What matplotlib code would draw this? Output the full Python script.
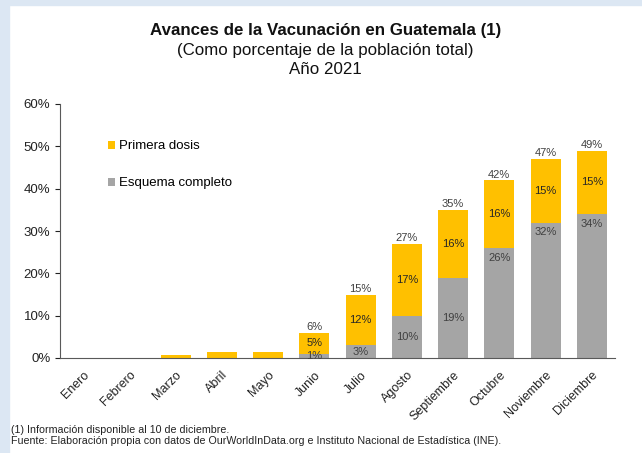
import matplotlib.pyplot as plt
from matplotlib.patches import Rectangle
from matplotlib.ticker import FuncFormatter

plt.rcParams["font.family"] = ["Liberation Sans", "DejaVu Sans"]

OUT_PNG = "out.png"

MONTHS = ["Enero", "Febrero", "Marzo", "Abril", "Mayo", "Junio", "Julio",
          "Agosto", "Septiembre", "Octubre", "Noviembre", "Diciembre"]
# percent of total population
ESQUEMA = [0, 0, 0, 0, 0, 1, 3, 10, 19, 26, 32, 34]
PRIMERA = [0, 0, 0.8, 1.3, 1.3, 5, 12, 17, 16, 16, 15, 15]
LABELED = [False, False, False, False, False, True, True, True, True, True, True, True]

YELLOW = "#FFC000"
GRAY = "#A5A5A5"
TEXT = "#404040"


def main():
    fig = plt.figure(figsize=(6.42, 4.53), dpi=100)
    # light blue frame strips
    fig.patches.append(Rectangle((0, 0), 9 / 642, 1, transform=fig.transFigure,
                                 color="#DCE7F3", zorder=0))
    fig.patches.append(Rectangle((0, 1 - 5 / 453), 1, 5 / 453, transform=fig.transFigure,
                                 color="#DCE7F3", zorder=0))

    ax = fig.add_axes([60 / 642, 95 / 453, 555 / 642, 254 / 453])
    x = list(range(len(MONTHS)))
    ax.bar(x, ESQUEMA, width=0.65, color=GRAY, label="Esquema completo")
    ax.bar(x, PRIMERA, width=0.65, bottom=ESQUEMA, color=YELLOW, label="Primera dosis")

    for i in x:
        if not LABELED[i]:
            continue
        g, p = ESQUEMA[i], PRIMERA[i]
        gy = g / 2 if g < 20 else g - 2.3
        ax.text(i, gy, f"{g:.0f}%", ha="center", va="center", fontsize=8, color=TEXT)
        ax.text(i, g + p / 2, f"{p:.0f}%", ha="center", va="center", fontsize=8,
                color="#262626")
        ax.annotate(f"{g + p:.0f}%", (i, g + p), xytext=(0, 0.5), textcoords="offset points",
                    ha="center", va="bottom", fontsize=8, color=TEXT)

    ax.set_xlim(-0.5, len(MONTHS) - 0.5)
    ax.set_ylim(0, 60)
    ax.set_yticks(range(0, 61, 10))
    ax.yaxis.set_major_formatter(FuncFormatter(lambda v, _: f"{v:.0f}%"))
    ax.set_xticks(x)
    ax.set_xticklabels(MONTHS, rotation=45, ha="right", rotation_mode="anchor", fontsize=9)
    ax.tick_params(axis="x", length=0, pad=8, colors="#222222")
    ax.tick_params(axis="y", length=3.6, pad=3.4, labelsize=9.5, colors="#222222")
    for side in ["top", "right"]:
        ax.spines[side].set_visible(False)
    for side in ["left", "bottom"]:
        ax.spines[side].set_color("#595959")
        ax.spines[side].set_linewidth(0.8)

    handles, labels = ax.get_legend_handles_labels()
    ax.legend(handles[::-1], labels[::-1], loc="upper left", bbox_to_anchor=(0.0865, 0.857),
              frameon=False, fontsize=9.5, handlelength=0.55, handleheight=0.55,
              handletextpad=0.25, labelspacing=1.9, borderaxespad=0, borderpad=0)

    fig.text(0.507, 1 - 31 / 453, "Avances de la Vacunación en Guatemala (1)", ha="center",
             va="center", fontsize=12.2, fontweight="bold", color="#111111")
    fig.text(0.507, 1 - 50 / 453, "(Como porcentaje de la población total)", ha="center",
             va="center", fontsize=12.2, color="#111111")
    fig.text(0.507, 1 - 70 / 453, "Año 2021", ha="center", va="center", fontsize=12.2,
             color="#111111")

    fig.text(11 / 642, 1 - 430 / 453, "(1) Información disponible al 10 de diciembre.",
             ha="left", va="center", fontsize=7.7, color="#222222")
    fig.text(11 / 642, 1 - 441 / 453,
             "Fuente: Elaboración propia con datos de OurWorldInData.org e Instituto "
             "Nacional de Estadística (INE).",
             ha="left", va="center", fontsize=7.7, color="#222222")

    fig.savefig(OUT_PNG, dpi=100, facecolor="white")


if __name__ == "__main__":
    main()
